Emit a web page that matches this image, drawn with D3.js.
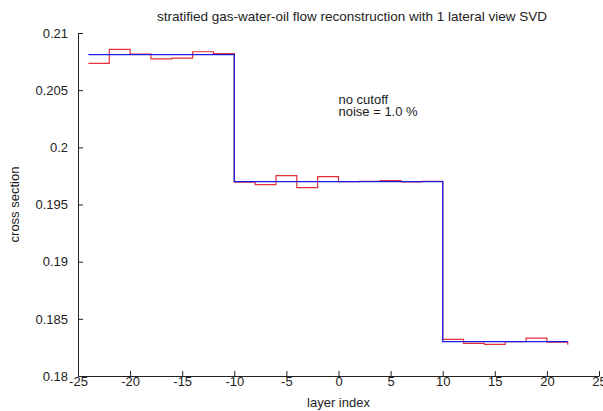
<!DOCTYPE html>
<html><head><meta charset="utf-8">
<script src="https://cdn.jsdelivr.net/npm/d3@7/dist/d3.min.js"></script>
<style>body{margin:0;background:#fff}svg{display:block}text{font-family:"Liberation Sans",Arial,sans-serif;fill:#222}</style>
</head><body><svg id="c" width="603" height="411"></svg>
<script>
const layers = [-24,-22,-20,-18,-16,-14,-12,-10,-8,-6,-4,-2,0,2,4,6,8,10,12,14,16,18,20,22];
const trueValues = [0.2081,0.2081,0.2081,0.2081,0.2081,0.2081,0.2081,
  0.1970,0.1970,0.1970,0.1970,0.1970,0.1970,0.1970,0.1970,0.1970,0.1970,
  0.1830,0.1830,0.1830,0.1830,0.1830,0.1830,0.1830];
const reconValues = [0.20735,0.20857,0.20816,0.20773,0.20781,0.20836,0.20819,
  0.19695,0.19673,0.19752,0.19647,0.19743,0.19700,0.19702,0.19709,0.19698,0.19702,
  0.18320,0.18285,0.18276,0.18300,0.18332,0.18296,0.18273];
const xTicks = [-25,-20,-15,-10,-5,0,5,10,15,20,25];
const yTicks = [0.18,0.185,0.19,0.195,0.2,0.205,0.21];
const title = "stratified gas-water-oil flow reconstruction with 1 lateral view SVD";
const annot = ["no cutoff","noise = 1.0 %"];

const FS = 13;
const svg = d3.select("#c");
const L=78,R=599,T=33,B=376;
const x = d3.scaleLinear().domain([-25,25]).range([L,R]);
const y = d3.scaleLinear().domain([0.18,0.21]).range([B,T]);

const xa = svg.append("g").attr("transform",`translate(0,${B})`)
  .call(d3.axisBottom(x).tickValues(xTicks).tickFormat(d=>d).tickSizeInner(-5).tickSizeOuter(0).tickPadding(3));
const ya = svg.append("g").attr("transform",`translate(${L},0)`)
  .call(d3.axisLeft(y).tickValues(yTicks).tickFormat(d=>+d.toFixed(3)).tickSizeInner(-5).tickSizeOuter(0).tickPadding(10));
[xa,ya].forEach(g=>{g.selectAll("path,line").attr("stroke","#222").attr("stroke-width",1);
  g.selectAll("text").attr("font-size",FS).attr("font-family","Liberation Sans, Arial, sans-serif").attr("fill","#222");});
xa.selectAll("text").attr("dy","0.55em");

const line = d3.line().x(d=>x(d[0])).y(d=>y(d[1])).curve(d3.curveStepAfter);
svg.append("path").datum(layers.map((l,i)=>[l,reconValues[i]]))
  .attr("d",line).attr("fill","none").attr("stroke","#e2303a").attr("stroke-width",1.2);
svg.append("path").datum(layers.map((l,i)=>[l,trueValues[i]]))
  .attr("d",line).attr("fill","none").attr("stroke","#1c1ce0").attr("stroke-width",1.3);

svg.append("text").attr("x",352).attr("y",21).attr("text-anchor","middle").attr("font-size",13.5).text(title);
svg.append("text").attr("x",x(0)).attr("y",407).attr("text-anchor","middle").attr("font-size",FS).text("layer index");
svg.append("text").attr("transform",`translate(19,${(T+B)/2}) rotate(-90)`).attr("text-anchor","middle").attr("font-size",FS).text("cross section");
annot.forEach((t,i)=>svg.append("text").attr("x",x(0)).attr("y",y(0.2038)+i*12.5).attr("font-size",FS).text(t));
</script></body></html>
